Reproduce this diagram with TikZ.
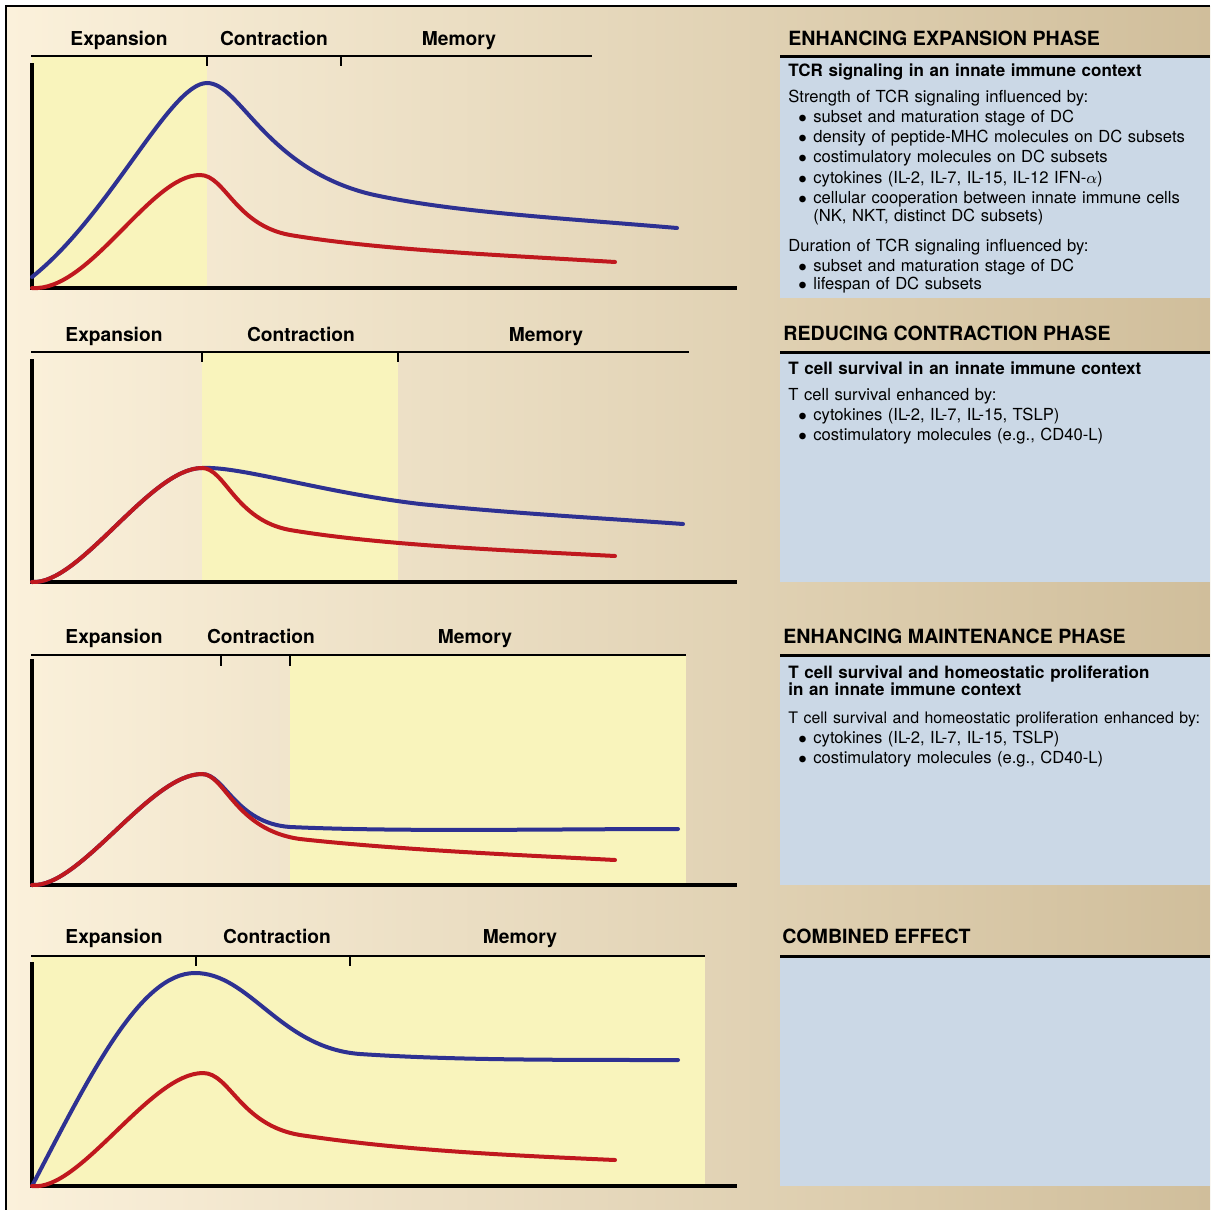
\documentclass[tikz,border=0pt]{standalone}
\usepackage{fontspec}
\setmainfont{TeX Gyre Heros}

\definecolor{bgleft}{RGB}{251,241,219}
\definecolor{bgright}{RGB}{208,190,155}
\definecolor{boxblue}{RGB}{203,216,230}
\definecolor{hiyellow}{RGB}{249,244,188}
\definecolor{cblue}{RGB}{46,49,146}
\definecolor{cred}{RGB}{192,24,30}

\newcommand{\bul}{\hspace*{5pt}\makebox[7.5pt][l]{$\bullet$}}
\newcommand{\cont}{\hspace*{12.5pt}}

\tikzset{
  phaselabel/.style={font=\bfseries\fontsize{9.6}{11}\selectfont, anchor=base, inner sep=0},
  headlabel/.style={font=\bfseries\fontsize{9.8}{12}\selectfont, anchor=base west, inner sep=0},
  subhead/.style={font=\bfseries\fontsize{8.5}{8.5}\selectfont, anchor=base west, inner sep=0, text width=205pt},
  bodytext/.style={font=\fontsize{8.3}{10.15}\selectfont, anchor=base west, inner sep=0, text width=225pt},
  timeline/.style={line width=1.3pt},
  axisline/.style={line width=2pt},
  headrule/.style={line width=1.5pt},
  naive/.style={line width=2pt, line cap=round, cblue},
  memory/.style={line width=2pt, line cap=round, cred},
}

\begin{document}
\begin{tikzpicture}[x=0.5pt, y=-0.5pt]
  \useasboundingbox (0,0) rectangle (1210,1210);
  \shade[left color=bgleft, right color=bgright] (6,6) rectangle (1210,1210);

  % right column
  \fill[boxblue] (780,56) rectangle (1210,298);
  \draw[headrule] (780,56) -- (1210,56);
  \node[headlabel] (head1) at (788,45) {ENHANCING EXPANSION PHASE};
  \node[subhead] (sub1) at (788,76) {TCR signaling in an innate immune context};
  \node[bodytext] (body1) at (788,102)
       {Strength of TCR signaling influenced by:\\
        \bul subset and maturation stage of DC\\
        \bul density of peptide-MHC molecules on DC subsets\\
        \bul costimulatory molecules on DC subsets\\
        \bul cytokines (IL-2, IL-7, IL-15, IL-12 IFN-$\alpha$)\\
        \bul cellular cooperation between innate immune cells\\[-1pt]
        \cont (NK, NKT, distinct DC subsets)\\[4.5pt]
        Duration of TCR signaling influenced by:\\
        \bul subset and maturation stage of DC\\[-1pt]
        \bul lifespan of DC subsets};

  \fill[boxblue] (780,352) rectangle (1210,582);
  \draw[headrule] (780,352) -- (1210,352);
  \node[headlabel] (head2) at (783,340) {REDUCING CONTRACTION PHASE};
  \node[subhead] (sub2) at (788,374) {T cell survival in an innate immune context};
  \node[bodytext] (body2) at (788,400)
       {T cell survival enhanced by:\\
        \bul cytokines (IL-2, IL-7, IL-15, TSLP)\\
        \bul costimulatory molecules (e.g., CD40-L)};

  \fill[boxblue] (780,655) rectangle (1210,885);
  \draw[headrule] (780,655) -- (1210,655);
  \node[headlabel] (head3) at (783,643) {ENHANCING MAINTENANCE PHASE};
  \node[subhead] (sub3) at (788,678)
       {T cell survival and homeostatic proliferation\\ in an innate immune context};
  \node[bodytext] (body3) at (788,723)
       {{\fontsize{7.95}{10.15}\selectfont T cell survival and homeostatic proliferation enhanced by:}\\
        \bul cytokines (IL-2, IL-7, IL-15, TSLP)\\
        \bul costimulatory molecules (e.g., CD40-L)};

  \fill[boxblue] (780,956) rectangle (1210,1186);
  \draw[headrule] (780,956) -- (1210,956);
  \node[headlabel] (head4) at (782,943) {COMBINED EFFECT};

  % expansion
  \fill[hiyellow] (32,56) rectangle (207,288);
  \draw[timeline] (31,56) -- (592,56) (207,56) -- (207,66) (341,56) -- (341,66);
  \draw[axisline] (32,63) -- (32,288) -- (737,288);
  \node[phaselabel] (exp1) at (119,45) {Expansion};
  \node[phaselabel] (con1) at (274,45) {Contraction};
  \node[phaselabel] (mem1) at (459,45) {Memory};
  \draw[naive] (32,277) .. controls (110,215) and (170,83) .. (207,83)
               .. controls (240,83) and (265,168) .. (370,194)
               .. controls (450,212) and (560,218) .. (677,228);
  \draw[memory] (32,288) .. controls (90,292) and (150,175) .. (200,175)
                .. controls (225,175) and (235,225) .. (290,235)
                .. controls (380,250) and (500,255) .. (615,262);

  % contraction
  \fill[hiyellow] (202,352) rectangle (398,582);
  \draw[timeline] (31,352) -- (689,352) (202,352) -- (202,362) (398,352) -- (398,362);
  \draw[axisline] (32,359) -- (32,582) -- (737,582);
  \node[phaselabel] (exp2) at (114,341) {Expansion};
  \node[phaselabel] (con2) at (301,341) {Contraction};
  \node[phaselabel] (mem2) at (546,341) {Memory};
  \draw[naive] (32,582) .. controls (80,585) and (150,468) .. (202,468)
               .. controls (240,466) and (320,492) .. (420,504)
               .. controls (520,514) and (600,518) .. (683,524);
  \draw[memory] (32,582) .. controls (80,585) and (150,468) .. (202,468)
                .. controls (225,468) and (235,520) .. (290,530)
                .. controls (380,545) and (500,550) .. (615,556);

  % maintenance
  \fill[hiyellow] (290,655) rectangle (686,885);
  \draw[timeline] (31,655) -- (686,655) (221,655) -- (221,666) (290,655) -- (290,666);
  \draw[axisline] (32,659) -- (32,885) -- (737,885);
  \node[phaselabel] (exp3) at (114,643) {Expansion};
  \node[phaselabel] (con3) at (261,643) {Contraction};
  \node[phaselabel] (mem3) at (475,643) {Memory};
  \draw[naive] (32,885) .. controls (80,888) and (150,774) .. (202,774)
               .. controls (225,774) and (235,823) .. (290,827)
               .. controls (400,832) and (550,829) .. (678,829);
  \draw[memory] (32,885) .. controls (80,888) and (150,774) .. (202,774)
                .. controls (225,774) and (235,830) .. (300,839)
                .. controls (400,850) and (520,855) .. (615,860);

  % combined
  \fill[hiyellow] (32,956) rectangle (705,1186);
  \draw[timeline] (31,956) -- (705,956) (196,956) -- (196,966) (350,956) -- (350,966);
  \draw[axisline] (32,962) -- (32,1186) -- (737,1186);
  \node[phaselabel] (exp4) at (114,943) {Expansion};
  \node[phaselabel] (con4) at (277,943) {Contraction};
  \node[phaselabel] (mem4) at (520,943) {Memory};
  \draw[naive] (32,1186) .. controls (90,1075) and (140,973) .. (195,973)
               .. controls (250,973) and (280,1048) .. (360,1054)
               .. controls (450,1060) and (550,1060) .. (678,1060);
  \draw[memory] (32,1186) .. controls (80,1192) and (150,1073) .. (203,1073)
                .. controls (230,1073) and (240,1125) .. (300,1135)
                .. controls (400,1150) and (500,1155) .. (615,1160);

  \draw[line width=1pt] (6,1210) -- (6,6) -- (1210,6);
\end{tikzpicture}
\end{document}
